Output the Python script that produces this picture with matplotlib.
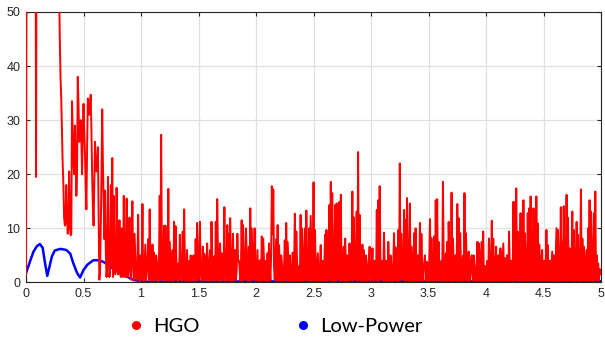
import matplotlib.pyplot as plt
from matplotlib.lines import Line2D
import numpy as np

# HGO samples, one every 0.0125 on the x axis, split by half-unit
hgo_0_05 = [1.5, 90, 90, 90, 90, 90, 90, 19.5, 90, 90,
            90, 90, 90, 90, 90, 90, 90, 90, 90, 90,
            90, 90, 90, 55, 38, 28, 18, 10.5, 18, 9,
            20.5, 8.7, 33.5, 22, 29, 16, 38, 26, 30, 20]
hgo_05_1 = [33, 24, 13.5, 34, 31, 34.7, 20, 10.5, 26, 20.5,
            25, 0.5, 10, 32, 15, 17, 1, 19.5, 1, 18,
            23, 16, 1.5, 17.5, 1.5, 11.5, 1, 6, 16, 1,
            15.5, 1, 12, 0.5, 15, 0.3, 5, 0.5, 12.5, 0.2]
hgo_1_15 = [0.5, 14.5, 0.5, 7, 2, 8, 13.5, 0.3, 7, 5.5,
            0.5, 4, 0.2, 16, 27.3, 0.5, 10.5, 10.5, 0.5, 17.3,
            7.5, 0.3, 6, 11.2, 10.4, 0.5, 3.5, 8.8, 0.5, 9.4,
            13.5, 0.3, 6, 3.5, 0.3, 3.5, 3.5, 0.5, 8, 11]
hgo_15_2 = [0.5, 11.2, 0.3, 6.6, 5.3, 0.5, 7.2, 0.3, 6, 11.2,
            0.5, 4.8, 11.2, 15.4, 0.3, 7.2, 5.4, 0.5, 13.9, 0.4,
            10.6, 9, 11.9, 0.3, 9, 5.7, 0.5, 9, 4.1, 0.3,
            11.5, 10.6, 0.5, 10, 0.3, 6.6, 13.7, 10, 0.5, 10]
hgo_2_25 = [0.3, 6, 0.3, 4.1, 8.5, 8.1, 0.3, 4, 5.4, 7.2,
            0.4, 17.8, 17.2, 0.5, 8, 10.6, 6.9, 0.3, 3.5, 0.3,
            7.8, 11, 7.5, 0.3, 3, 0.3, 0.3, 12.7, 9.4, 0.4,
            3, 12.5, 10, 0.3, 10, 13.3, 0.5, 10, 12.3, 0.3]
hgo_25_3 = [18.5, 9.7, 0.3, 5.4, 0.5, 6.9, 2.3, 0.3, 8.8, 9.7,
            0.4, 14.3, 18.6, 16.5, 0.3, 14.3, 14.6, 0.5, 14.9, 16.2,
            0.3, 6.6, 8.1, 0.3, 4, 7.2, 0.4, 16.8, 12, 0.5,
            13.1, 24.1, 12.5, 0.3, 7, 6, 0.3, 3.5, 0.3, 6.6]
hgo_3_35 = [0.3, 6.3, 0.5, 3, 13.4, 15.2, 17.8, 0.5, 4, 9.2,
            0.3, 3, 7.5, 0.3, 3.5, 0.3, 9.1, 6.5, 0.3, 9.7,
            22, 9, 0.5, 13.4, 11.5, 15.6, 0.3, 14.6, 6.6, 0.3,
            9.1, 10, 0.3, 3, 11, 9, 0.3, 3.5, 0.3, 3.8]
hgo_35_4 = [0.3, 11.7, 8.2, 0.3, 8.5, 15.2, 15.4, 7.5, 0.3, 4,
            18.6, 0.3, 5.4, 7.5, 11.2, 0.3, 16.6, 8.1, 0.3, 5,
            14.5, 11.9, 9.1, 0.3, 5, 16.5, 9.1, 0.3, 5.7, 0.3,
            5, 0.3, 3.2, 0.3, 7.5, 7.2, 0.3, 7.5, 9.4, 0.3]
hgo_4_45 = [0.3, 4, 8.1, 0.3, 11.4, 8.1, 0.3, 6.6, 0.3, 5,
            6.3, 0.3, 7.2, 4.5, 0.3, 2.5, 9.4, 0.3, 3.5, 14.9,
            14.8, 17.4, 9.4, 0.3, 12.8, 9.4, 15.2, 9.1, 0.3, 12.8,
            13.7, 15.9, 9.7, 13.7, 0.3, 15.9, 10.9, 7, 0.3, 6]
hgo_45_5 = [1, 0.3, 9.7, 6.9, 1.3, 0.3, 5.7, 5, 0.3, 10,
            9.7, 0.3, 13.9, 7.5, 14.1, 0.3, 16.2, 12, 6.3, 0.3,
            13.1, 9.7, 0.3, 11.2, 8.8, 0.3, 17.2, 8.1, 6.6, 0.3,
            6, 10, 15.2, 13.1, 0.3, 12.8, 16.8, 5, 3.5, 2.5, 1.5]

# HGO samples half way between the ones above
mid_0_05 = [90, 90, 90, 90, 90, 90, 90, 90, 90, 90,
            90, 90, 90, 90, 90, 90, 90, 90, 90, 90,
            90, 90, 70, 45, 34, 22, 12, 11, 12, 10,
            12, 9, 28, 20, 24, 20, 33, 27, 26, 28]
mid_05_1 = [28, 18, 25, 32, 33, 28, 14, 18, 22, 22,
            12, 2, 20, 22, 8, 6, 3, 5, 2, 3,
            1, 5, 2, 6, 4, 1.5, 10, 1, 4, 6,
            1, 7, 2, 8, 3, 9, 1, 4, 1, 5]
mid_1_15 = [3, 0.3, 4, 0.3, 4, 0.5, 5, 3, 0.3, 2,
            5, 0.3, 4, 0.5, 6, 3, 0.3, 4, 0.5, 0.3,
            4, 4, 0.3, 0.5, 5, 0.3, 0.4, 4, 0.3, 0.5,
            4, 2, 0.3, 4, 5, 0.3, 5, 0.3, 0.4, 4]
mid_15_2 = [4, 2, 0.4, 0.3, 4, 3, 0.4, 4, 0.3, 5,
            3, 0.3, 0.5, 6, 3, 0.3, 5, 4, 0.3, 3,
            0.4, 0.3, 5, 3, 0.3, 6, 2, 4, 3, 3,
            0.3, 4, 2, 5, 3, 0.3, 0.4, 5, 3, 0.5]
mid_2_25 = [3, 0.4, 4, 0.3, 0.4, 4, 2, 0.3, 0.3, 3,
            5, 9, 3, 4, 0.3, 0.4, 3, 5, 0.4, 3,
            0.3, 0.5, 4, 5, 0.3, 5.5, 3, 0.3, 4, 0.3,
            0.4, 0.3, 5, 3, 0.4, 4, 2, 0.3, 6, 4]
mid_25_3 = [0.4, 3, 3, 0.3, 3, 0.3, 4, 3, 0.3, 0.4,
            5, 0.5, 0.3, 4, 5, 0.3, 3, 6, 0.3, 0.4,
            4, 0.3, 3, 5, 0.3, 3, 4, 0.3, 5, 3,
            0.3, 0.4, 4, 3, 0.3, 3, 5, 0.3, 4, 0.4]
mid_3_35 = [3, 0.3, 4, 0.3, 0.4, 0.3, 5, 3, 0.3, 3,
            4, 0.3, 3, 5, 0.3, 4, 0.4, 3, 3, 0.3,
            0.5, 3, 5, 0.3, 0.4, 4, 3, 0.3, 3, 4,
            0.3, 3, 5, 0.3, 0.4, 4, 3, 5, 3, 0.3]
mid_35_4 = [4, 0.3, 3, 3, 0.4, 0.3, 0.5, 3, 3, 0.3,
            5, 3, 0.3, 0.4, 4, 3, 0.3, 3, 5, 0.3,
            0.4, 0.3, 4, 3, 0.3, 0.4, 4, 5, 0.3, 4,
            2, 5, 0.4, 3, 0.3, 4, 5, 0.3, 0.4, 3]
mid_4_45 = [3, 0.3, 3, 4, 0.3, 3, 3, 0.4, 5, 0.3,
            3, 4, 0.3, 3, 5, 0.3, 3, 4, 0.3, 0.4,
            0.3, 0.5, 3, 5, 0.3, 0.4, 0.3, 4, 3, 0.3,
            0.4, 0.3, 0.5, 4, 5, 0.3, 0.4, 3, 4, 0.3]
mid_45_5 = [4, 3, 0.3, 0.4, 4, 3, 0.3, 3, 5, 0.3,
            4, 3, 0.3, 0.4, 4, 3, 0.3, 0.4, 3, 5,
            0.3, 4, 3, 0.3, 0.4, 5, 0.3, 0.4, 3, 4,
            0.3, 0.4, 0.3, 4, 5, 0.3, 0.4, 0.5, 0.3, 2]

hgo_main = (hgo_0_05 + hgo_05_1 + hgo_1_15 + hgo_15_2 + hgo_2_25
            + hgo_25_3 + hgo_3_35 + hgo_35_4 + hgo_4_45 + hgo_45_5)
hgo_mid = (mid_0_05 + mid_05_1 + mid_1_15 + mid_15_2 + mid_2_25
           + mid_25_3 + mid_3_35 + mid_35_4 + mid_4_45 + mid_45_5)

# interleave the two sets of samples
hgo = np.empty(len(hgo_main) + len(hgo_mid))
hgo[0::2] = hgo_main
hgo[1::2] = hgo_mid
hgo_x = np.linspace(0, 5, len(hgo))

lp_x = [0, 0.035, 0.065, 0.095, 0.12, 0.145, 0.165, 0.185, 0.205, 0.225,
        0.25, 0.3, 0.35, 0.385, 0.41, 0.445, 0.47, 0.5, 0.535, 0.585,
        0.64, 0.69, 0.76, 0.845, 0.93, 1.02, 1.3, 1.6, 2.0, 2.4,
        2.8, 3.2, 3.6, 4.0, 4.4, 4.8, 5.0]
lp_y = [1.7, 3.9, 5.7, 6.7, 7.1, 6.4, 3.6, 1.2, 3.0, 4.8,
        5.9, 6.2, 6.0, 5.3, 3.6, 1.7, 0.9, 2.3, 3.3, 4.1,
        4.1, 3.6, 2.5, 1.4, 0.5, 0.12, 0.2, 0.15, 0.2, 0.15,
        0.25, 0.2, 0.15, 0.2, 0.15, 0.25, 0.2]

x_ticks = [0, 0.5, 1, 1.5, 2, 2.5, 3, 3.5, 4, 4.5, 5]
x_labels = ['0', '0.5', '1', '1.5', '2', '2.5', '3', '3.5', '4', '4.5', '5']
y_ticks = [0, 10, 20, 30, 40, 50]

fig = plt.figure(figsize=(6.05, 3.37), dpi=100)
ax = fig.add_axes([0.043, 0.162, 0.9505, 0.8025])

ax.plot(lp_x, lp_y, color='#0000ff', lw=1.8, zorder=2)
ax.plot(hgo_x, hgo, color='#ff0000', lw=1.4, zorder=3)

ax.set_xlim(0, 5)
ax.set_ylim(0, 50)
ax.set_xticks(x_ticks)
ax.set_xticklabels(x_labels)
ax.set_yticks(y_ticks)
ax.grid(True, color='#e0e0e0', lw=0.9, zorder=0)
ax.set_axisbelow(True)
ax.tick_params(direction='in', top=True, right=True, length=3,
               labelsize=9, colors='#262626', pad=4)
for s in ax.spines.values():
    s.set_color('#262626')
    s.set_linewidth(0.8)
for lab in ax.get_xticklabels() + ax.get_yticklabels():
    lab.set_family('Liberation Sans')

# legend underneath, dots only
handles = [Line2D([], [], ls='none', marker='o', ms=5.5, color='#ff0000'),
           Line2D([], [], ls='none', marker='o', ms=5.5, color='#0000ff')]
fig.legend(handles, ['HGO', 'Low-Power'], loc='center', ncol=2,
           bbox_to_anchor=(0.455, 0.03), frameon=False,
           prop={'family': 'Lato', 'size': 14.5},
           handletextpad=0.45, columnspacing=4.7, handlelength=0.8)

fig.savefig('out.png', dpi=100)
